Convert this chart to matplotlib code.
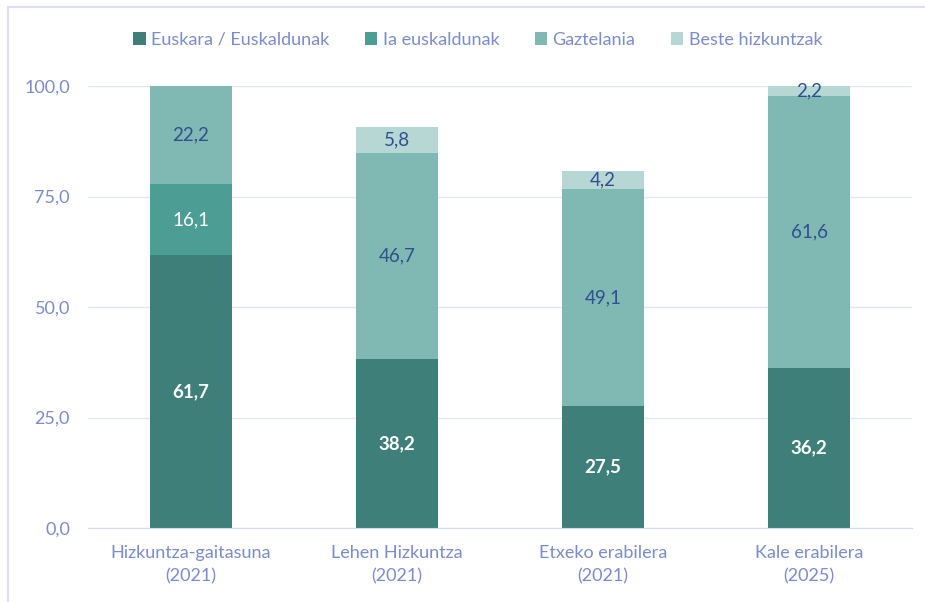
import matplotlib.pyplot as plt
import numpy as np

plt.rcParams['font.family'] = ['Lato', 'DejaVu Sans']

categories = ['Hizkuntza-gaitasuna\n(2021)', 'Lehen Hizkuntza\n(2021)',
              'Etxeko erabilera\n(2021)', 'Kale erabilera\n(2025)']
series_names = ['Euskara / Euskaldunak', 'Ia euskaldunak', 'Gaztelania', 'Beste hizkuntzak']
euskara = [61.7, 38.2, 27.5, 36.2]
ia_eusk = [16.1, 0.0, 0.0, 0.0]
gaztelania = [22.2, 46.7, 49.1, 61.6]
beste = [0.0, 5.8, 4.2, 2.2]

colors = ['#3E8079', '#4C9E95', '#80B9B3', '#B6D7D3']
label_colors = ['white', 'white', '#2F4F8F', '#2F4F8F']
tick_color = '#7A8CCB'

fig = plt.figure(figsize=(9.25, 6.02), dpi=100)
ax = fig.add_axes([88 / 925, 1 - 528 / 602, 824 / 925, 442 / 602])

x = np.arange(len(categories)) + 0.5
bottom = np.zeros(len(categories))
for i, vals in enumerate([euskara, ia_eusk, gaztelania, beste]):
    vals = np.array(vals)
    ax.bar(x, vals, width=0.40, bottom=bottom, color=colors[i], label=series_names[i], zorder=2)
    for xi, b, v in zip(x, bottom, vals):
        if v > 0:
            ax.text(xi, b + v / 2, f'{v:.1f}'.replace('.', ','), ha='center', va='center',
                    fontsize=13.5, color=label_colors[i],
                    fontweight='bold' if i == 0 else 'normal', zorder=3)
    bottom += vals

ax.set_xlim(0, 4)
ax.set_ylim(0, 100)
ax.set_yticks([0, 25, 50, 75, 100])
ax.set_yticklabels(['0,0', '25,0', '50,0', '75,0', '100,0'])
ax.set_xticks(x)
ax.set_xticklabels(categories, linespacing=1.55)
ax.tick_params(axis='y', length=0, pad=13, labelsize=13, labelcolor=tick_color)
ax.tick_params(axis='x', length=0, pad=12, labelsize=13, labelcolor=tick_color)
ax.grid(axis='y', color='#E3E6F3', lw=1, zorder=0)
for s in ['top', 'right', 'left']:
    ax.spines[s].set_visible(False)
ax.spines['bottom'].set_color('#D3DAF0')

ax.legend(loc='upper center', bbox_to_anchor=(0.473, 1.16), ncol=4, frameon=False,
          fontsize=13, labelcolor=tick_color, handlelength=0.7, handleheight=0.7,
          handletextpad=0.3, columnspacing=1.95)

# outer frame lines
fig.add_artist(plt.Line2D([8 / 925, 8 / 925], [0, 1 - 7 / 602], color='#DCDFF2', lw=1.5))
fig.add_artist(plt.Line2D([8 / 925, 1], [1 - 7 / 602, 1 - 7 / 602], color='#DCDFF2', lw=1.5))

fig.savefig('out.png', dpi=100)
